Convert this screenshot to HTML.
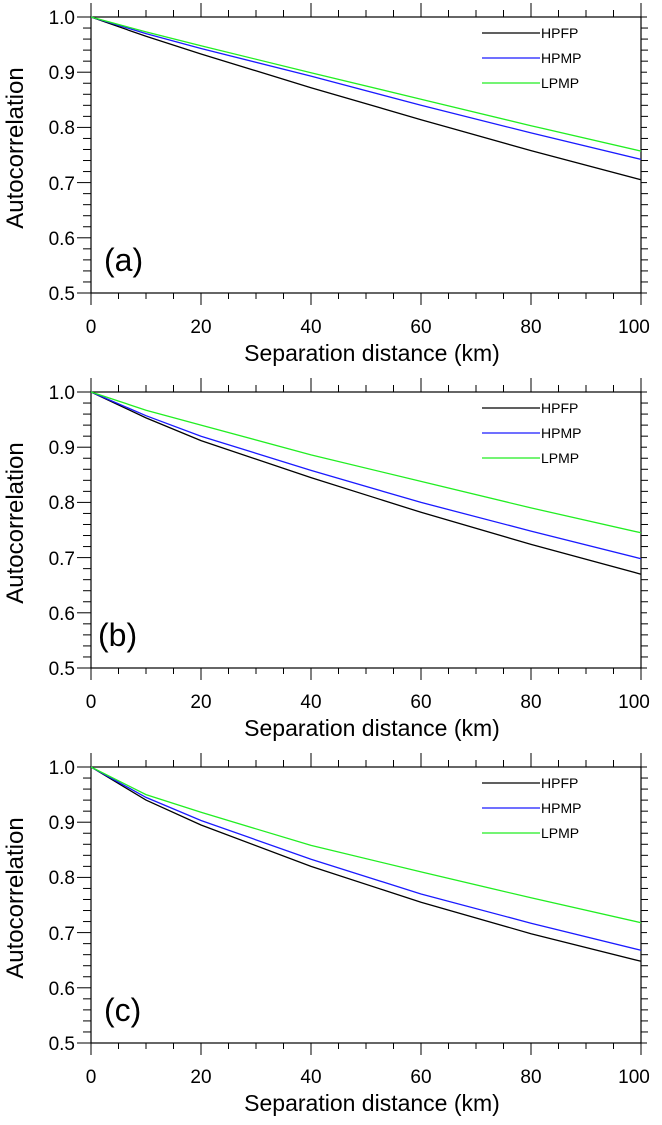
<!DOCTYPE html>
<html><head><meta charset="utf-8"><style>
body{margin:0;background:#fff}
svg{display:block;font-family:"Liberation Sans",Arial,sans-serif}
</style></head><body>
<svg id="s" width="662" height="1125" viewBox="0 0 662 1125" xmlns="http://www.w3.org/2000/svg">
<g id="p0">
<g font-size="19" text-anchor="end" fill="#000">
<text x="75" y="24">1.0</text><text x="75" y="79">0.9</text><text x="75" y="134">0.8</text><text x="75" y="190">0.7</text><text x="75" y="245">0.6</text><text x="75" y="300">0.5</text></g>
<g font-size="19" text-anchor="middle"><text x="91" y="333">0</text><text x="201" y="333">20</text><text x="311" y="333">40</text><text x="421" y="333">60</text><text x="531" y="333">80</text><text x="634" y="333">100</text></g>
<text x="372" y="361" font-size="23" text-anchor="middle">Separation distance (km)</text>
<text transform="translate(23,148) rotate(-90)" font-size="24" text-anchor="middle">Autocorrelation</text>
<text x="104" y="271" font-size="32">(a)</text>
<g font-size="14"><text x="541" y="38">HPFP</text><text x="541" y="63">HPMP</text><text x="541" y="88">LPMP</text></g>
</g>
<g transform="translate(0,375)">
<g font-size="19" text-anchor="end">
<text x="75" y="24">1.0</text><text x="75" y="79">0.9</text><text x="75" y="134">0.8</text><text x="75" y="190">0.7</text><text x="75" y="245">0.6</text><text x="75" y="300">0.5</text></g>
<g font-size="19" text-anchor="middle"><text x="91" y="333">0</text><text x="201" y="333">20</text><text x="311" y="333">40</text><text x="421" y="333">60</text><text x="531" y="333">80</text><text x="634" y="333">100</text></g>
<text x="372" y="361" font-size="23" text-anchor="middle">Separation distance (km)</text>
<text transform="translate(23,148) rotate(-90)" font-size="24" text-anchor="middle">Autocorrelation</text>
<text x="98" y="271" font-size="32">(b)</text>
<g font-size="14"><text x="541" y="38">HPFP</text><text x="541" y="63">HPMP</text><text x="541" y="88">LPMP</text></g>
</g>
<g transform="translate(0,750)">
<g font-size="19" text-anchor="end">
<text x="75" y="24">1.0</text><text x="75" y="79">0.9</text><text x="75" y="134">0.8</text><text x="75" y="190">0.7</text><text x="75" y="245">0.6</text><text x="75" y="300">0.5</text></g>
<g font-size="19" text-anchor="middle"><text x="91" y="333">0</text><text x="201" y="333">20</text><text x="311" y="333">40</text><text x="421" y="333">60</text><text x="531" y="333">80</text><text x="634" y="333">100</text></g>
<text x="372" y="361" font-size="23" text-anchor="middle">Separation distance (km)</text>
<text transform="translate(23,148) rotate(-90)" font-size="24" text-anchor="middle">Autocorrelation</text>
<text x="104" y="271" font-size="32">(c)</text>
<g font-size="14"><text x="541" y="38">HPFP</text><text x="541" y="63">HPMP</text><text x="541" y="88">LPMP</text></g>
</g>
</svg>
<script>
var s=document.getElementById('s'),NS='http://www.w3.org/2000/svg';
function L(x1,y1,x2,y2,c,w){var l=document.createElementNS(NS,'line');l.setAttribute('x1',x1);l.setAttribute('y1',y1);l.setAttribute('x2',x2);l.setAttribute('y2',y2);l.setAttribute('stroke',c||'#000');l.setAttribute('stroke-width',w||1);s.appendChild(l);}
var X=[0,10,20,40,60,80,100];
var D=[
[[1,.965,.933,.872,.814,.758,.705],[1,.97,.943,.893,.84,.79,.742],[1,.973,.948,.899,.851,.803,.757]],
[[1,.953,.912,.845,.782,.724,.67],[1,.957,.92,.858,.8,.748,.698],[1,.967,.94,.886,.838,.79,.745]],
[[1,.94,.895,.82,.755,.698,.648],[1,.945,.903,.833,.77,.717,.668],[1,.95,.918,.858,.81,.763,.718]]];
var C=['#000','#1a1aff','#22ee22'];
for(var p=0;p<3;p++){
 var o=p*375,t=17+o,b=293+o,l=91,r=641;
 function yy(v){return b-(v-0.5)/0.5*(b-t);}
 function xx(v){return l+v/100*(r-l);}
 for(var i=0;i<=20;i++){var x=l+i*(r-l)/20,maj=i%4==0;
  L(x,t,x,t-(maj?14:7),'#000',1);L(x,b,x,b+(maj?12:6),'#000',1);}
 for(var i=0;i<=25;i++){var y=t+i*(b-t)/25,maj=i%5==0;
  L(l,y,l-(maj?14:8),y,'#000',1);L(r,y,r+(maj?6:7),y,'#000',1);}
 var rc=document.createElementNS(NS,'rect');rc.setAttribute('x',l);rc.setAttribute('y',t);rc.setAttribute('width',r-l);rc.setAttribute('height',b-t);rc.setAttribute('fill','none');rc.setAttribute('stroke','#000');rc.setAttribute('stroke-width',1.2);s.appendChild(rc);
 for(var k=0;k<3;k++){var pts=[];
  for(var j=0;j<X.length;j++)pts.push(xx(X[j]).toFixed(1)+','+yy(D[p][k][j]).toFixed(1));
  var pl=document.createElementNS(NS,'polyline');pl.setAttribute('points',pts.join(' '));pl.setAttribute('fill','none');pl.setAttribute('stroke',C[k]);pl.setAttribute('stroke-width',1.3);s.appendChild(pl);
  L(482,o+33+k*25,540,o+33+k*25,C[k],1.3);}
}
</script>
</body></html>
